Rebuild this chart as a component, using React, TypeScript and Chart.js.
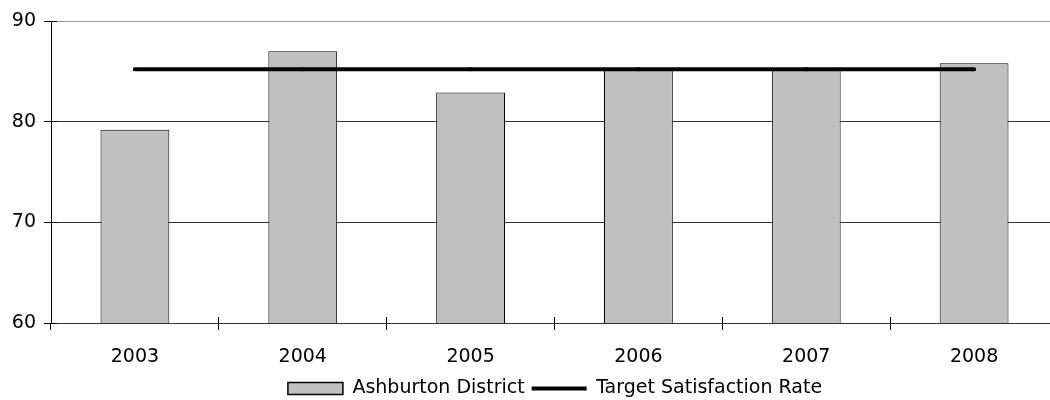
import React, { useEffect, useRef } from 'react';
import { Chart, registerables } from 'chart.js';

Chart.register(...registerables);

const years = ['2003', '2004', '2005', '2006', '2007', '2008'];
const districtRates = [79.2, 87.0, 82.9, 85.1, 85.1, 85.8];
const targetRates = [85.2, 85.2, 85.2, 85.2, 85.2, 85.2];
const yMin = 60;
const yMax = 90;
const yStep = 10;

const FONT = 'DejaVu Sans';

// Tick marks that cross the axis lines (short stubs inside the plot area).
const crossTicks = {
  id: 'crossTicks',
  afterDraw(chart: any) {
    const { ctx, chartArea } = chart;
    const x = chart.scales.x;
    const y = chart.scales.y;
    const align = (p: number) => Math.round(p - 0.5) + 0.5;
    ctx.save();
    ctx.strokeStyle = '#000';
    ctx.lineWidth = 1;
    ctx.beginPath();
    y.ticks.forEach((_t: any, i: number) => {
      const py = align(y.getPixelForTick(i));
      ctx.moveTo(chartArea.left, py);
      ctx.lineTo(chartArea.left + 6, py);
    });
    for (let i = 0; i <= years.length; i++) {
      const px = align(x.getPixelForValue(i - 0.5));
      ctx.moveTo(px, chartArea.bottom);
      ctx.lineTo(px, chartArea.bottom - 6);
    }
    ctx.stroke();
    ctx.restore();
  },
};

export default function App() {
  const canvasRef = useRef<HTMLCanvasElement | null>(null);

  useEffect(() => {
    if (!canvasRef.current) return;
    Chart.defaults.font.family = FONT;
    Chart.defaults.font.size = 19;
    Chart.defaults.color = '#000';

    const chart = new Chart(canvasRef.current, {
      type: 'bar',
      data: {
        labels: years,
        datasets: [
          {
            type: 'line',
            label: 'Target Satisfaction Rate',
            data: targetRates,
            borderColor: '#000',
            borderWidth: 4,
            pointStyle: 'rect',
            pointRadius: 2.5,
            pointBackgroundColor: '#000',
            pointBorderWidth: 0,
            fill: false,
          } as any,
          {
            type: 'bar',
            label: 'Ashburton District',
            data: districtRates,
            backgroundColor: '#c0c0c0',
            borderColor: '#000',
            borderWidth: 1,
            barPercentage: 0.41,
            categoryPercentage: 1,
          } as any,
        ],
      },
      options: {
        responsive: false,
        animation: false,
        layout: { padding: { top: 21, left: 0, right: 0, bottom: 0 } },
        plugins: {
          tooltip: { enabled: false },
          legend: {
            position: 'bottom',
            labels: {
              usePointStyle: true,
              pointStyleWidth: 55,
              boxHeight: 12,
              padding: 7,
              color: '#000',
              font: { family: FONT, size: 19 },
              generateLabels(c: any) {
                const items = Chart.defaults.plugins.legend.labels.generateLabels(c);
                items.sort((a: any, b: any) => b.datasetIndex - a.datasetIndex);
                items.forEach((it: any) => {
                  if (it.datasetIndex === 1) {
                    it.pointStyle = 'rect';
                    it.fillStyle = '#c0c0c0';
                    it.strokeStyle = '#000';
                    it.lineWidth = 1.5;
                  } else {
                    it.pointStyle = 'line';
                    it.strokeStyle = '#000';
                    it.lineWidth = 4;
                  }
                });
                return items;
              },
            },
          },
        },
        scales: {
          x: {
            offset: true,
            grid: {
              offset: true,
              drawOnChartArea: false,
              drawTicks: true,
              tickLength: 7,
              tickColor: '#000',
            },
            border: { display: true, color: '#333', width: 1 },
            ticks: {
              padding: 16,
              maxRotation: 0,
              autoSkip: false,
              color: '#000',
              font: { family: FONT, size: 19 },
            },
            afterFit(s: any) {
              s.height = 49;
            },
          },
          y: {
            min: yMin,
            max: yMax,
            grid: {
              color: (ctx: any) => (ctx.tick && ctx.tick.value === yMax ? '#999' : '#333'),
              lineWidth: 1,
              drawTicks: true,
              tickLength: 7,
              tickColor: '#000',
            },
            border: { display: true, color: '#000', width: 1 },
            ticks: {
              stepSize: yStep,
              padding: 8,
              color: '#000',
              font: { family: FONT, size: 19 },
            },
            afterFit(s: any) {
              s.width = 51;
            },
          },
          spacer: {
            type: 'linear',
            position: 'right',
            display: true,
            grid: { display: false, drawTicks: false },
            border: { display: false },
            ticks: { display: false },
            afterFit(s: any) {
              s.width = 52;
            },
          },
        },
      },
      plugins: [crossTicks],
    } as any);

    return () => chart.destroy();
  }, []);

  return (
    <div style={{ position: 'fixed', left: 0, top: 0, width: 1110, height: 408, background: '#fff' }}>
      <canvas ref={canvasRef} width={1110} height={408} />
    </div>
  );
}
